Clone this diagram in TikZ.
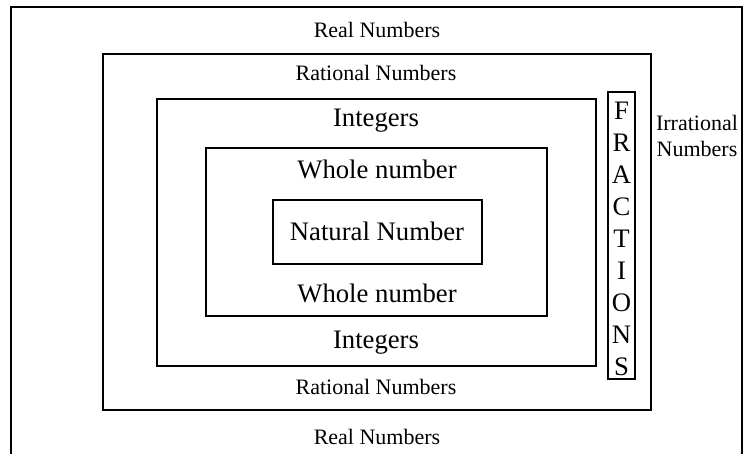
\documentclass[tikz,border=0pt]{standalone}
\usepackage{fontspec}
\setmainfont{Liberation Serif}
\begin{document}
\begin{tikzpicture}[x=1pt,y=-1pt,
  box/.style={draw=black,line width=1.1pt},
  small/.style={font=\fontsize{22}{26}\selectfont,inner sep=0pt,text height=0.7em,text depth=0.2em},
  big/.style={font=\fontsize{26.7}{32}\selectfont,inner sep=0pt,text height=0.7em,text depth=0.2em}]
\useasboundingbox (0,0) rectangle (746,454);
% outer (open at bottom)
\draw[box] (11,454) -- (11,7) -- (742,7) -- (742,454);
% rational
\draw[box] (103,54) rectangle (651,410);
% integers
\draw[box] (157,99) rectangle (596,366);
% whole
\draw[box] (206,148) rectangle (547,316);
% natural
\draw[box] (273,200) rectangle (482,264);
% fractions
\draw[box] (608,92) rectangle (635,379);

\node[small] (realT) at (377,35) {Real Numbers};
\node[small] (realB) at (377,442) {Real Numbers};
\node[small] (ratT) at (376,78) {Rational Numbers};
\node[small] (ratB) at (376,392) {Rational Numbers};
\node[big] (intT) at (376,124) {Integers};
\node[big] (intB) at (376,346) {Integers};
\node[big] (whT) at (377,176) {Whole number};
\node[big] (whB) at (377,300) {Whole number};
\node[big] (nat) at (377,238) {Natural Number};
\node[small,align=center,text height=,text depth=] (irr) at (697,136) {Irrational\\Numbers};
\node[big,align=center,text height=,text depth=] (frac) at (621.5,239) {F\\R\\A\\C\\T\\I\\O\\N\\S};
\end{tikzpicture}
\end{document}
